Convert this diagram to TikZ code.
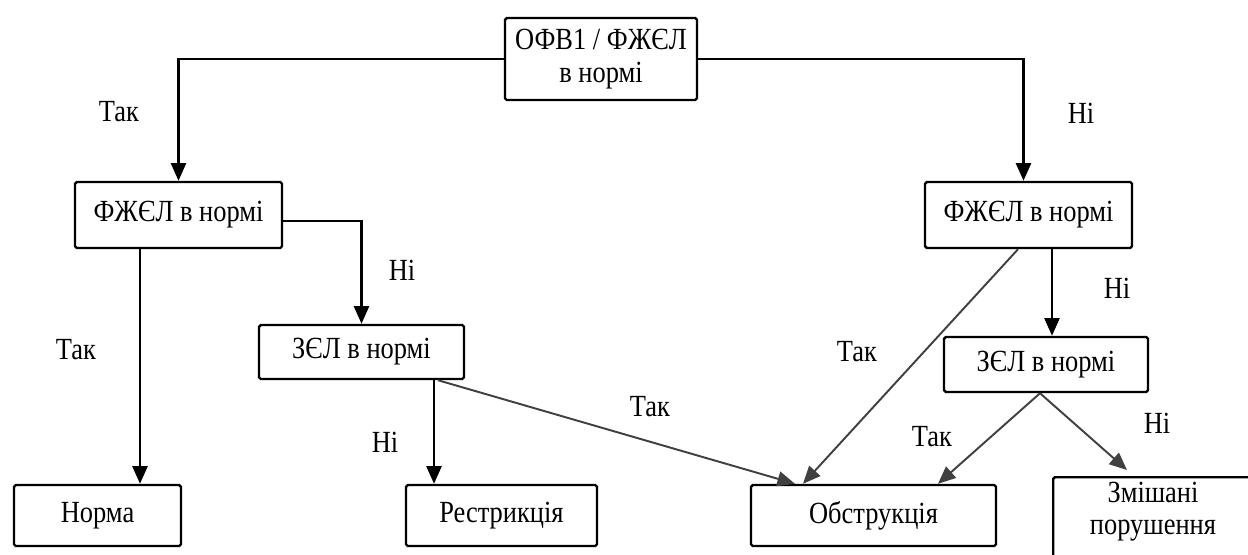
\documentclass[tikz,border=0pt]{standalone}
\usepackage{fontspec}
\setmainfont[FakeStretch=0.86]{Liberation Serif}
\usetikzlibrary{arrows.meta,calc,positioning}

\begin{document}
\begin{tikzpicture}[
    box/.style={draw, line width=1.4pt, rounded corners=1pt, inner sep=2pt, align=center,
               font=\fontsize{17.5}{18.5}\selectfont},
    lbl/.style={font=\fontsize{17.5}{18.5}\selectfont},
    yes/.style={->, line width=1.4pt},
    diag/.style={->, line width=1.1pt, draw=black!75},
    >={Triangle[width=8.5pt,length=10pt]}
]
\useasboundingbox (0,0) rectangle (24.96,-11.08);

% ------------------------------------------------------------
% Boxes
% ------------------------------------------------------------

\node[box, minimum width=3.84cm, minimum height=1.64cm] (spiro) at (12.02,-1.18) {ОФВ1 / ФЖЄЛ\\в нормі};

\node[box, minimum width=4.14cm, minimum height=1.32cm] (fvcL) at (3.57,-4.30) {ФЖЄЛ в нормі};
\node[box, minimum width=4.14cm, minimum height=1.32cm] (fvcR) at (20.57,-4.30) {ФЖЄЛ в нормі};

\node[box, minimum width=4.10cm, minimum height=1.08cm] (tlcL) at (7.23,-7.04) {ЗЄЛ в нормі};
\node[box, minimum width=4.08cm, minimum height=1.10cm] (tlcR) at (20.92,-7.29) {ЗЄЛ в нормі};

\node[box, minimum width=3.34cm, minimum height=1.22cm] (norm)  at (1.95,-10.31) {Норма};
\node[box, minimum width=3.82cm, minimum height=1.22cm] (restr) at (10.03,-10.31) {Рестрикція};
\node[box, minimum width=4.90cm, minimum height=1.22cm] (obstr) at (17.47,-10.31) {Обструкція};
\node[box, minimum width=4.20cm, minimum height=1.90cm, anchor=north west] (mixed) at (21.04,-9.52) {};
\node[lbl, align=center] (mixedtxt) at (23.06,-10.23) {Змішані\\порушення};

% ------------------------------------------------------------
% Connectors
% ------------------------------------------------------------

\draw[yes] (spiro.west) -| (fvcL.north);
\draw[yes] (spiro.east) -| ([xshift=-0.1cm]fvcR.north);

\draw[yes] ([yshift=-0.12cm]fvcL.east) -| (tlcL.north);
\coordinate (fvcLs) at ([xshift=-0.77cm]fvcL.south);
\draw[yes] (fvcLs) -- (fvcLs |- norm.north);

\coordinate (tlcLs) at ([xshift=1.45cm]tlcL.south);
\draw[yes] (tlcLs) -- (tlcLs |- restr.north);
\draw[diag] ([xshift=1.53cm]tlcL.south) -- ([xshift=-1.57cm]obstr.north);

\draw[diag] ([xshift=-0.21cm]fvcR.south) -- ([xshift=-1.41cm]obstr.north);
\coordinate (fvcRs) at ([xshift=0.47cm]fvcR.south);
\draw[yes] (fvcRs) -- (fvcRs |- tlcR.north);

\draw[diag] ([xshift=-0.12cm]tlcR.south) -- ([xshift=1.29cm]obstr.north);
\draw[diag] ([xshift=-0.12cm]tlcR.south) -- ([xshift=1.5cm,yshift=0.12cm]mixed.north west);

% ------------------------------------------------------------
% Labels
% ------------------------------------------------------------

\node[lbl] (yTop)  at (2.38,-2.24)  {Так};
\node[lbl] (nTop)  at (21.62,-2.26) {Ні};
\node[lbl] (nFvcL) at (8.04,-5.40)  {Ні};
\node[lbl] (yFvcL) at (1.52,-7.00)  {Так};
\node[lbl] (nTlcL) at (7.70,-8.84)  {Ні};
\node[lbl] (yTlcL) at (13.00,-8.14) {Так};
\node[lbl] (yFvcR) at (17.14,-7.04) {Так};
\node[lbl] (nFvcR) at (22.34,-5.76) {Ні};
\node[lbl] (yTlcR) at (18.64,-8.74) {Так};
\node[lbl] (nTlcR) at (23.14,-8.46) {Ні};
\end{tikzpicture}
\end{document}
